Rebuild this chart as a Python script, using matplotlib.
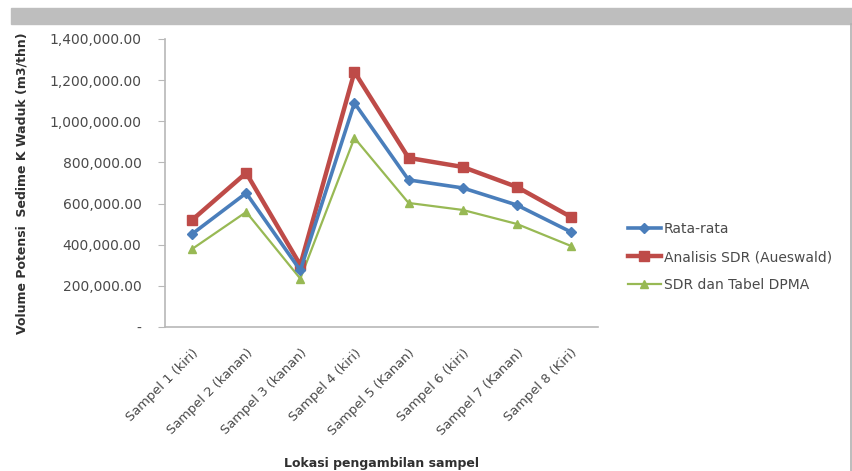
import matplotlib.pyplot as plt
from matplotlib.patches import Rectangle
from matplotlib.lines import Line2D
from matplotlib.ticker import FuncFormatter

# data
lokasi = ['Sampel 1 (kiri)', 'Sampel 2 (kanan)', 'Sampel 3 (kanan)', 'Sampel 4 (kiri)',
          'Sampel 5 (Kanan)', 'Sampel 6 (kiri)', 'Sampel 7 (Kanan)', 'Sampel 8 (Kiri)']
rata_rata = [452000, 651000, 275000, 1089000, 715000, 676000, 593000, 462000]
sdr_aueswald = [520000, 749000, 301000, 1240000, 822000, 778000, 681000, 535000]
sdr_dpma = [379000, 559000, 235000, 919000, 603000, 569000, 501000, 394000]

y_ticks = [0, 200000, 400000, 600000, 800000, 1000000, 1200000, 1400000]

plt.rcParams['font.family'] = ['DejaVu Sans']
text_color = '#4a4a4a'

fig = plt.figure(figsize=(8.53, 4.71), dpi=100)

# grey band on top and thin right border like the source screenshot
fig.patches.append(Rectangle((11 / 853, 1 - 24 / 471), 1, 16 / 471, transform=fig.transFigure,
                             color='#bebebe', zorder=0))
fig.lines.append(Line2D([851.5 / 853, 851.5 / 853], [0, 1 - 24 / 471], transform=fig.transFigure,
                        color='#b0b0b0', linewidth=1.2))

ax = fig.add_axes([165 / 853, 144 / 471, 433 / 853, 288 / 471])
x = list(range(len(lokasi)))

ax.plot(x, rata_rata, color='#4a7ebb', linewidth=2.6, marker='D', markersize=5,
        label='Rata-rata', zorder=3)
ax.plot(x, sdr_aueswald, color='#be4b48', linewidth=3.2, marker='s', markersize=7,
        label='Analisis SDR (Aueswald)', zorder=2)
ax.plot(x, sdr_dpma, color='#98b954', linewidth=1.6, marker='^', markersize=6,
        label='SDR dan Tabel DPMA', zorder=1)

ax.set_xlim(-0.5, len(lokasi) - 0.5)
ax.set_ylim(0, 1400000)
ax.set_yticks(y_ticks)
ax.yaxis.set_major_formatter(FuncFormatter(lambda v, p: '-' if v == 0 else f'{v:,.2f}'))
ax.set_xticks(x)
ax.set_xticklabels(lokasi, rotation=45, ha='right', rotation_mode='anchor')

for s in ['top', 'right']:
    ax.spines[s].set_visible(False)
for s in ['left', 'bottom']:
    ax.spines[s].set_color('#b8b8b8')
    ax.spines[s].set_linewidth(1.2)

ax.tick_params(axis='y', colors='#b8b8b8', labelcolor=text_color, labelsize=10,
               length=5, pad=12)
ax.tick_params(axis='x', length=0, labelcolor=text_color, labelsize=9.4, pad=14)

ax.set_ylabel('Volume Potensi  Sedime K Waduk (m3/thn)', fontsize=9, fontweight='bold',
              color='#303030', labelpad=15)
ax.set_xlabel('Lokasi pengambilan sampel', fontsize=9, fontweight='bold',
              color='#303030', labelpad=14)

ax.legend(loc='center left', bbox_to_anchor=(1.04, 0.243), frameon=False, fontsize=10,
          labelcolor=text_color, handlelength=2.4, labelspacing=1.0, handletextpad=0.2)

fig.savefig('out.png', dpi=100)
